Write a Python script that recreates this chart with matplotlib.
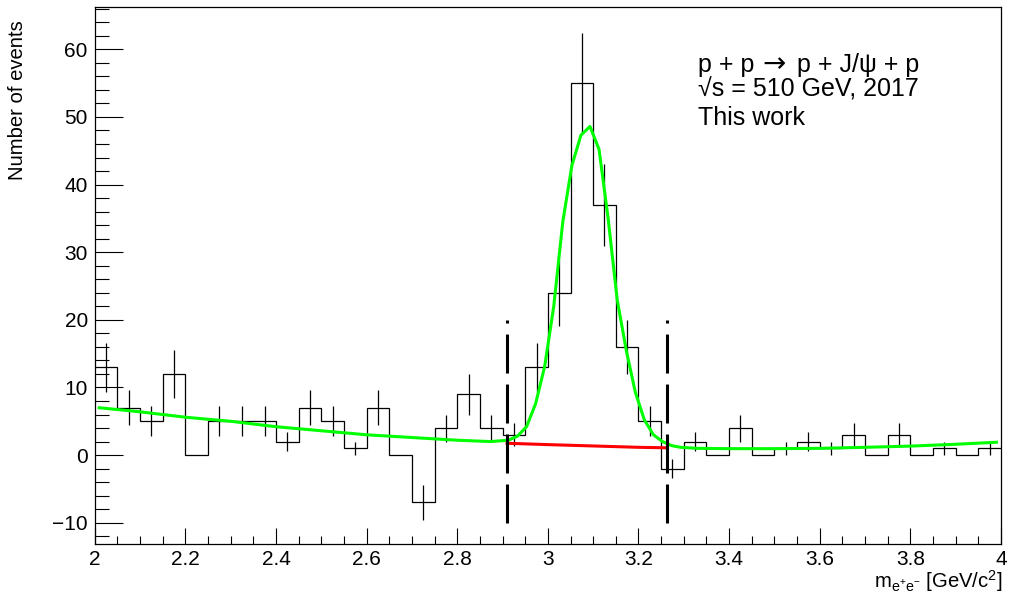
import numpy as np
import matplotlib
matplotlib.use("Agg")
import matplotlib.pyplot as plt
from matplotlib.ticker import MultipleLocator, FuncFormatter

plt.rcParams['font.family'] = ['Liberation Sans', 'DejaVu Sans']
plt.rcParams['mathtext.fontset'] = 'custom'
plt.rcParams['mathtext.rm'] = 'Liberation Sans'
plt.rcParams['mathtext.it'] = 'Liberation Sans:italic'

# Histogram: 40 bins of 0.05 GeV between 2 and 4
mass_lo, mass_hi, n_bins = 2.0, 4.0, 40
counts = [13, 7, 5, 12, 0, 5, 5, 5, 2, 7,
          5, 1, 7, 0, -7, 4, 9, 4, 3, 13,
          24, 55, 37, 16, 5, -2, 2, 0, 4, 0,
          1, 2, 1, 3, 0, 3, 0, 1, 0, 1]
errors = [3.6, 2.6, 2.2, 3.5, 0, 2.2, 2.2, 2.2, 1.4, 2.6,
          2.2, 1.0, 2.6, 0, 2.6, 2.0, 3.0, 2.0, 1.7, 3.6,
          4.9, 7.4, 6.1, 4.0, 2.2, 1.4, 1.4, 0, 2.0, 0,
          1.0, 1.4, 1.0, 1.7, 0, 1.7, 0, 1.0, 0, 1.0]

# Fit: signal + background (green), background under the peak (red)
fit_x = [2.01, 2.1, 2.2, 2.3, 2.4, 2.5, 2.6, 2.7, 2.8, 2.873, 2.913, 2.933,
         2.953, 2.973, 2.993, 3.013, 3.033, 3.053, 3.073, 3.093, 3.113, 3.133,
         3.153, 3.173, 3.193, 3.213, 3.233, 3.253, 3.273, 3.293, 3.33, 3.4,
         3.5, 3.6, 3.7, 3.8, 3.9, 3.99]
fit_y = [7.0, 6.4, 5.6, 5.0, 4.2, 3.6, 3.0, 2.6, 2.2, 2.0, 2.2, 2.8,
         4.2, 7.6, 13.1, 22.0, 34.5, 42.8, 47.3, 48.6, 45.2, 35.0,
         23.0, 15.5, 9.3, 5.2, 3.0, 2.0, 1.4, 1.15, 1.0, 0.95,
         0.95, 1.0, 1.15, 1.33, 1.6, 1.9]
bkg_x = [2.91, 3.0, 3.1, 3.2, 3.263]
bkg_y = [1.75, 1.55, 1.35, 1.15, 1.08]

# Signal window
window = [2.91, 3.263]
window_y = (-10, 20)

edges = np.linspace(mass_lo, mass_hi, n_bins + 1)
centers = 0.5 * (edges[:-1] + edges[1:])
counts = np.array(counts, dtype=float)
errors = np.array(errors)

W, H = 1009, 598
fig = plt.figure(figsize=(W / 100, H / 100), dpi=100)
ax = fig.add_axes([94.7 / W, 1 - 544.3 / H, (1001 - 94.7) / W, (544.3 - 6.7) / H])

ax.stairs(counts, edges, color='black', lw=0.9, baseline=None)
has_err = errors > 0
ax.vlines(centers[has_err], (counts - errors)[has_err], (counts + errors)[has_err],
          color='black', lw=0.9)

ax.plot(bkg_x, bkg_y, color='#ff0000', lw=2.2, zorder=3)
ax.plot(fit_x, fit_y, color='#00ff00', lw=2.2, zorder=4)

for xw in window:
    ax.plot([xw, xw], window_y, color='black', lw=2.2, dashes=(12.76, 3.6),
            dash_capstyle='butt', zorder=5)

ax.set_xlim(mass_lo, mass_hi)
ax.set_ylim(-13.19, 66.3)

ax.xaxis.set_major_locator(MultipleLocator(0.2))
ax.xaxis.set_minor_locator(MultipleLocator(0.05))
ax.xaxis.set_major_formatter(FuncFormatter(lambda v, p: '%g' % round(v, 2)))
ax.yaxis.set_major_locator(MultipleLocator(10))
ax.yaxis.set_minor_locator(MultipleLocator(2))

ax.tick_params(which='both', direction='in', top=False, right=False, width=0.8,
               labelsize=15)
ax.tick_params(axis='x', which='major', length=11.5, pad=4)
ax.tick_params(axis='x', which='minor', length=5.8)
ax.tick_params(axis='y', which='major', length=20, pad=5)
ax.tick_params(axis='y', which='minor', length=10)
for sp in ax.spines.values():
    sp.set_linewidth(0.9)

fig.text(18 / W, 1 - 20 / H, 'Number of events', rotation=90,
         ha='center', va='top', fontsize=14.6)
fig.text(1002 / W, 1 - 594 / H,
         r'm$_{\mathrm{e^{+}e^{-}}}$ [GeV/c$^{\mathrm{2}}$]',
         ha='right', va='bottom', fontsize=14.6)

# Reaction label, with a wider arrow glyph
fig.text(698 / W, 1 - 72 / H, 'p + p', ha='left', va='baseline', fontsize=18)
fig.text(762 / W, 1 - 72 / H, '\u2192', ha='left', va='baseline', fontsize=20,
         family='DejaVu Sans')
fig.text(797 / W, 1 - 72 / H, 'p + J/\u03c8 + p', ha='left', va='baseline',
         fontsize=18)
fig.text(698 / W, 1 - 96 / H, '\u221as = 510 GeV, 2017',
         ha='left', va='baseline', fontsize=18)
fig.text(698 / W, 1 - 125 / H, 'This work',
         ha='left', va='baseline', fontsize=18)

fig.savefig('out.png', dpi=100)
